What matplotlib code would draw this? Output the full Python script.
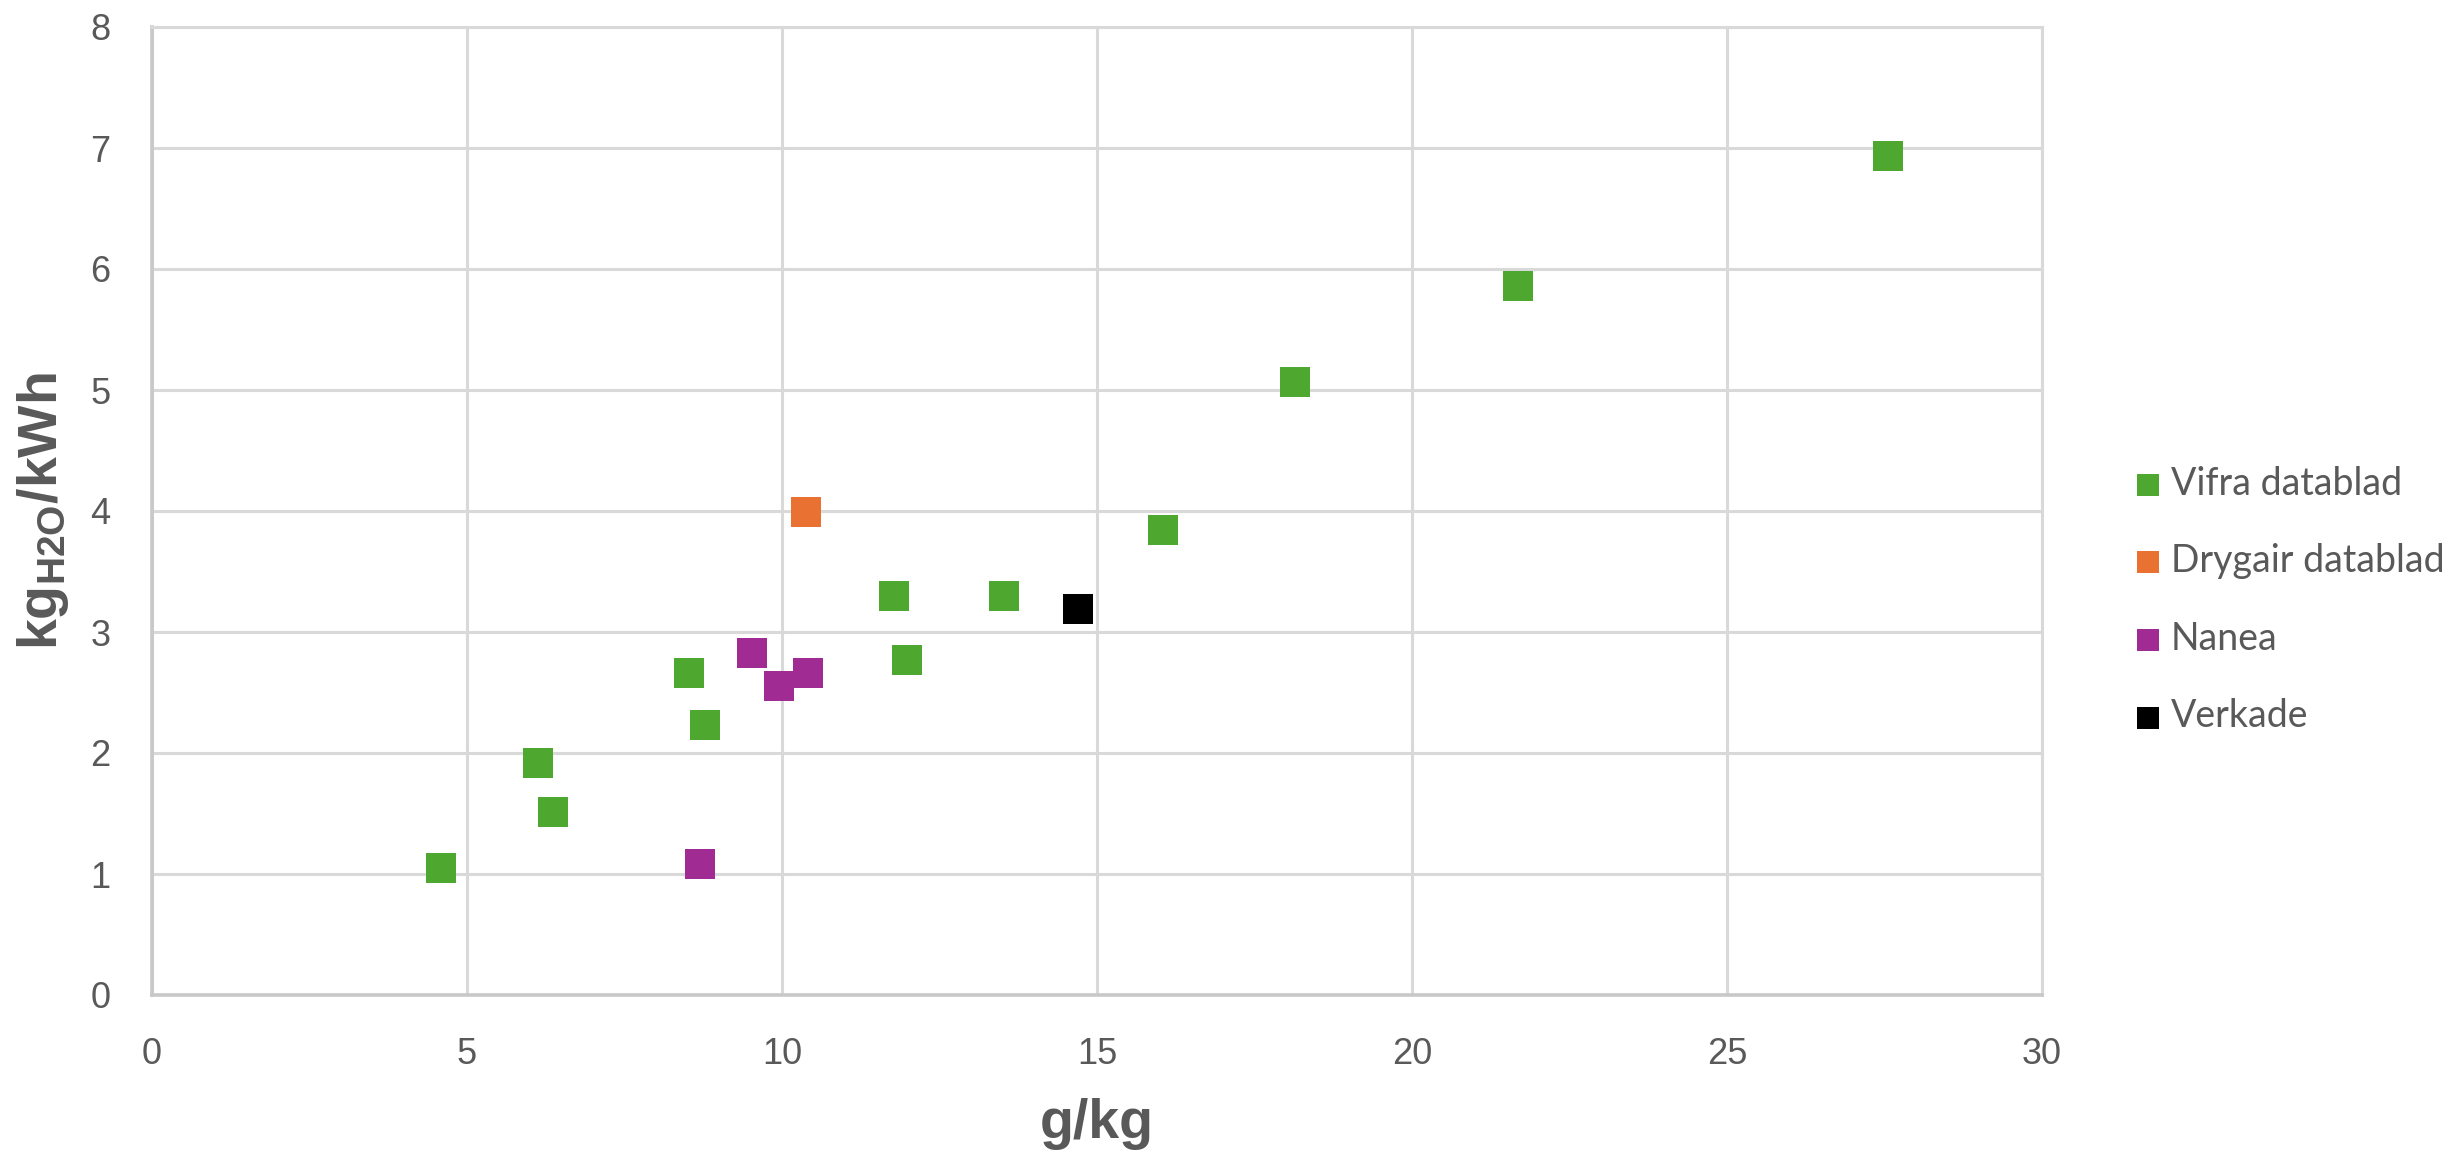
import matplotlib
matplotlib.use("Agg")
import matplotlib.pyplot as plt

# ---- data ----
vifra_x = [4.58, 6.12, 6.36, 8.52, 8.77, 11.77, 11.98, 13.52, 16.05, 18.15, 21.69, 27.55]
vifra_y = [1.05, 1.92, 1.51, 2.66, 2.23, 3.30, 2.77, 3.30, 3.84, 5.07, 5.86, 6.93]
drygair_x = [10.38]
drygair_y = [3.99]
nanea_x = [8.70, 9.52, 9.95, 10.41]
nanea_y = [1.08, 2.83, 2.55, 2.66]
verkade_x = [14.70]
verkade_y = [3.19]

series_labels = ["Vifra datablad", "Drygair datablad", "Nanea", "Verkade"]
series_colors = ["#4EA72E", "#E97132", "#A02B93", "#000000"]
x_ticks = [0, 5, 10, 15, 20, 25, 30]
y_ticks = [0, 1, 2, 3, 4, 5, 6, 7, 8]
x_label = "g/kg"
y_label = r"kg$_{\mathrm{H2O}}$/kWh"

plt.rcParams['mathtext.fontset'] = 'custom'
plt.rcParams['mathtext.rm'] = 'Liberation Sans:bold'
plt.rcParams['mathtext.it'] = 'Liberation Sans:bold'
plt.rcParams['mathtext.bf'] = 'Liberation Sans:bold'

TXT = "#595959"
GRID = "#d9d9d9"

fig = plt.figure(figsize=(24.53, 11.61), dpi=100)
ax = fig.add_axes([152/2453, 1-995/1161, 1890/2453, 968/1161])

data = [(vifra_x, vifra_y), (drygair_x, drygair_y), (nanea_x, nanea_y), (verkade_x, verkade_y)]
for (xs, ys), lab, col in zip(data, series_labels, series_colors):
    ax.scatter(xs, ys, marker='s', s=21**2, color=col, linewidths=0, label=lab, zorder=3)

ax.set_xlim(0, 30)
ax.set_ylim(0, 8)
ax.set_xticks(x_ticks)
ax.set_yticks(y_ticks)
ax.set_axisbelow(True)
ax.grid(True, color=GRID, linewidth=2.2)
for side in ['top', 'right']:
    ax.spines[side].set_color(GRID)
    ax.spines[side].set_linewidth(2.2)
for side in ['left', 'bottom']:
    ax.spines[side].set_color("#c8c8c8")
    ax.spines[side].set_linewidth(2.6)

ax.tick_params(axis='both', length=0, labelcolor=TXT, labelsize=26, pad=30)
for lbl in ax.get_xticklabels() + ax.get_yticklabels():
    lbl.set_fontfamily('Liberation Sans')

ax.set_xlabel(x_label, fontsize=40, fontweight='bold', color=TXT, fontfamily='Liberation Sans')
ax.set_ylabel(y_label, fontsize=40, fontweight='bold', color=TXT, fontfamily='Liberation Sans')
ax.xaxis.set_label_coords(0.5, -0.106)
ax.yaxis.set_label_coords(-0.0426, 0.5)

leg = ax.legend(loc='center left', bbox_to_anchor=(2137/2453, 1-600/1161),
                bbox_transform=fig.transFigure, frameon=False,
                borderaxespad=0, borderpad=0, handlelength=0.6, handletextpad=0.31,
                labelspacing=1.11, markerscale=0.78,
                prop={'family': 'Lato', 'size': 27})
for t in leg.get_texts():
    t.set_color(TXT)

fig.savefig("out.png", dpi=100)
